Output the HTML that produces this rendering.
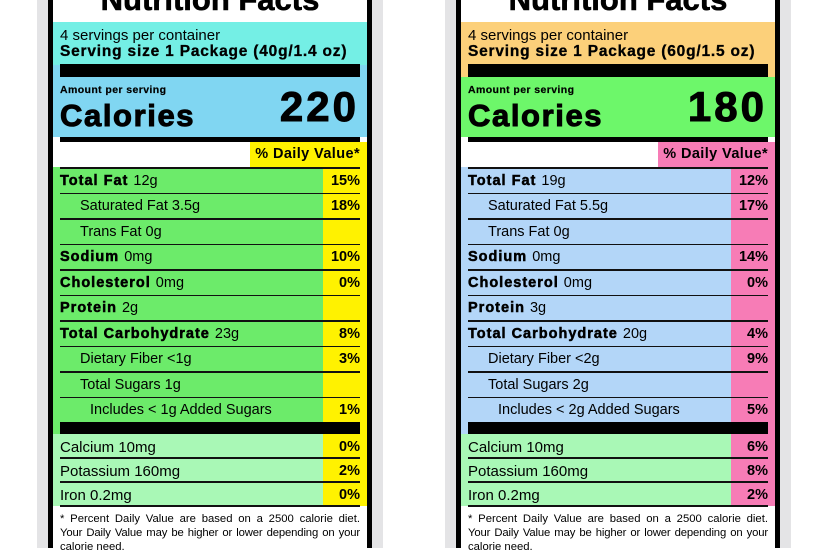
<!DOCTYPE html>
<html><head><meta charset="utf-8">
<style>
body{margin:0;width:828px;height:548px;overflow:hidden;background:#fff;font-family:"Liberation Sans",Arial,sans-serif;position:relative}
.a{position:absolute}
.t{position:absolute;white-space:nowrap;color:#000;line-height:1}
.hb{font-weight:bold;-webkit-text-stroke:0.5px #000;letter-spacing:1px}
.fl{text-align:justify;text-align-last:justify;white-space:nowrap;height:14px}
</style></head><body>
<script>
const labelNames=['left-label','right-label'];
const servingSizes=['Serving size 1 Package (40g/1.4 oz)','Serving size 1 Package (60g/1.5 oz)'];
const calories=[220,180];
const rowNames=['Total Fat','Saturated Fat','Trans Fat','Sodium','Cholesterol','Protein','Total Carbohydrate','Dietary Fiber','Total Sugars','Includes Added Sugars'];
const rowBold=[1,0,0,1,1,1,1,0,0,0];
const rowIndent=[0,1,1,0,0,0,0,1,1,2];
const leftAmounts=['Total Fat |12g','Saturated Fat 3.5g','Trans Fat 0g','Sodium |0mg','Cholesterol |0mg','Protein |2g','Total Carbohydrate |23g','Dietary Fiber <1g','Total Sugars 1g','Includes < 1g Added Sugars'];
const rightAmounts=['Total Fat |19g','Saturated Fat 5.5g','Trans Fat 0g','Sodium |0mg','Cholesterol |0mg','Protein |3g','Total Carbohydrate |20g','Dietary Fiber <2g','Total Sugars 2g','Includes < 2g Added Sugars'];
const leftDV=['15%','18%','','10%','0%','','8%','3%','','1%'];
const rightDV=['12%','17%','','14%','0%','','4%','9%','','5%'];
const minerals=['Calcium 10mg','Potassium 160mg','Iron 0.2mg'];
const leftMinDV=['0%','2%','0%'];
const rightMinDV=['6%','8%','2%'];
const themes=[
 {serv:'#74efe5',cal:'#80d6f2',dv:'#fff200',rows:'#6ceb6a',min:'#a9f8b6'},
 {serv:'#fcd07a',cal:'#6df76a',dv:'#f77cb6',rows:'#b3d6f8',min:'#a9f8b6'}];
function box(p,x,y,w,h,bg,name){const d=document.createElement('div');d.className='a';d.style.cssText=`left:${x}px;top:${y}px;width:${w}px;height:${h}px;background:${bg}`;


p.appendChild(d);return d;}
function txt(p,x,y,s,size,bold,name,right,extra){const d=document.createElement('div');d.className='t';d.style.fontSize=size+'px';d.style.fontWeight=bold?'bold':'normal';d.style.top=(y-size*0.9)+'px';
if(extra)d.style.cssText+=extra;
if(right){d.style.right=(828-x)+'px'}else d.style.left=x+'px';
d.innerHTML=s;


p.appendChild(d);return d;}
function label(i,ox,amounts,dvs,minDV){
 const th=themes[i];const b=document.body;
 const L=ox,W=314,tx=ox+7,lw=300,R=ox+307;
 box(b,L-16,0,W+32,548,'#e4e4e6',labelNames[i]+'-frame');
 box(b,L-5,0,W+10,548,'#000',labelNames[i]+'-border');
 box(b,L,0,W,548,'#fff',labelNames[i]+'-panel');
 const t=txt(b,L+W/2,12,'Nutrition Facts',31,1,'title',false,'-webkit-text-stroke:0.6px #000;');t.style.left=L+'px';t.style.width=W+'px';t.style.textAlign='center';
 box(b,L,22,W,i?55:43,th.serv,'serving-section');
 box(b,L,i?77:65,W,i?60:72,th.cal,'calories-section');
 txt(b,tx,41,'4 servings per container',15,0,'servings-per-container');
 txt(b,tx,58,servingSizes[i],15.5,1,'serving-size',false,'letter-spacing:0.8px;-webkit-text-stroke:0.3px #000;');
 box(b,tx,64,lw,13,'#000','thick-bar-top');
 txt(b,tx,94,'Amount per serving',10.5,1,'amount-per-serving',false,'letter-spacing:0.4px;-webkit-text-stroke:0.2px #000;');
 txt(b,tx,128,'Calories',31,1,'calories-label',false,'letter-spacing:1.6px;-webkit-text-stroke:1px #000;');
 txt(b,R-1,124,String(calories[i]),42,1,'calories-value',true,'letter-spacing:3px;-webkit-text-stroke:1px #000;');
 box(b,tx,137,lw,5,'#000','calories-rule');
 box(b,L+197,142,W-197,25,th.dv,'dv-header-bg');
 txt(b,R,160,'% Daily Value*',14.5,1,'dv-header',true,'letter-spacing:0.4px;');
 const top=167,rh=25.5;
 box(b,L,top,W,rh*10,th.rows,'nutrient-rows-bg');
 box(b,L+270,top,W-270,rh*10+12+72,th.dv,'dv-column');
 amounts.forEach((a,k)=>{
  const y=top+k*rh;
  box(b,tx,y,lw,1.5,'#111','row-rule');
  let s;
  if(rowBold[k]&&a.includes('|')){const [bb,r]=a.split('|');s='<span class="hb">'+bb+'</span>'+r.replace('<','&lt;');}else s=a.replace('<','&lt;');
  txt(b,tx+[0,20,30][rowIndent[k]],y+20,s,14.5,0,'nutrient-'+rowNames[k].toLowerCase().replace(/ /g,'-'));
  if(dvs[k])txt(b,R,y+20,dvs[k],14.5,1,'dv-value',true);
 });
 box(b,L,top+rh*10,W-44,12,th.rows,'rows-end');
 box(b,tx,422,lw,12,'#000','thick-bar-bottom');
 box(b,L,434,W-44,72,th.min,'minerals-bg');
 minerals.forEach((m,k)=>{const y=434+k*24;
  if(k)box(b,tx,y-1,lw,1.5,'#111','mineral-rule');
  txt(b,tx,y+19,m,15,0,'mineral-'+m.split(' ')[0].toLowerCase());
  txt(b,R,y+19,minDV[k],14.5,1,'dv-value',true);});
 box(b,tx,505,lw,1.5,'#111','footer-rule');
 const f=document.createElement('div');f.className='a';f.style.cssText=`left:${tx}px;top:512px;width:${lw}px;font-size:11.3px;line-height:14px;color:#000`;
 f.innerHTML='<div class="fl">* Percent Daily Value are based on a 2500 calorie diet.</div><div class="fl" style="letter-spacing:-0.15px">Your Daily Value may be higher or lower depending on your</div><div>calorie need.</div>';
 
 
 b.appendChild(f);
}
label(0,53,leftAmounts,leftDV,leftMinDV);
label(1,461,rightAmounts,rightDV,rightMinDV);
</script>
</body></html>
